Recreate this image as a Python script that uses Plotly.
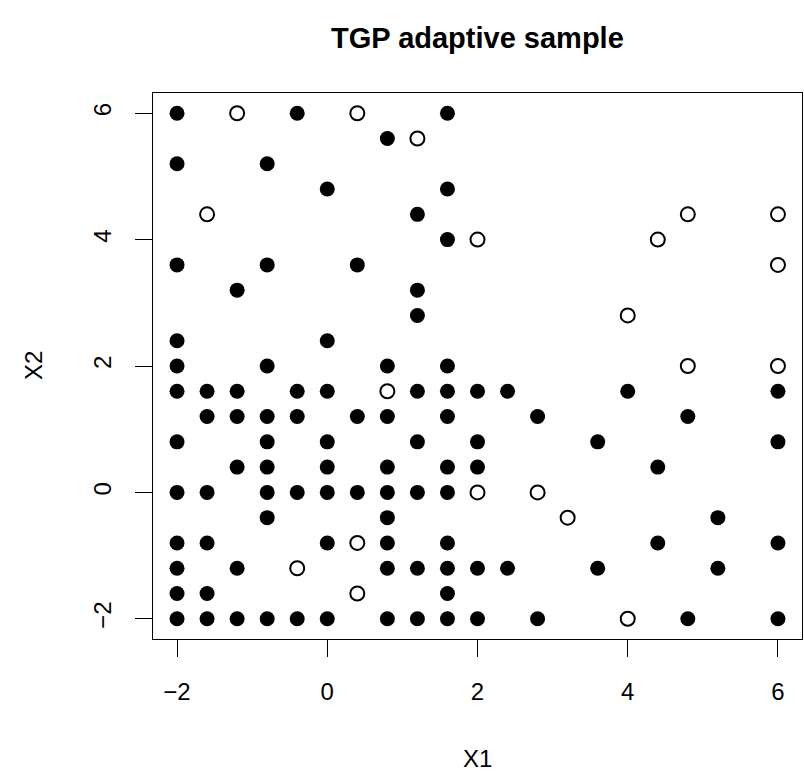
import plotly.graph_objects as go

# Filled points (X1, X2)
filled_x1 = [-2, -0.4, 1.6,
             0.8,
             -2, -0.8,
             0, 1.6,
             1.2,
             1.6,
             -2, -0.8, 0.4,
             -1.2, 1.2,
             1.2,
             -2, 0,
             -2, -0.8, 0.8, 1.6,
             -2, -1.6, -1.2, -0.4, 0, 1.2, 1.6, 2.0, 2.4, 4.0, 6.0,
             -1.6, -1.2, -0.8, -0.4, 0.4, 0.8, 1.6, 2.8, 4.8,
             -2, -0.8, 0, 1.2, 2.0, 3.6, 6.0,
             -1.2, -0.8, 0, 0.8, 1.6, 2.0, 4.4,
             -2, -1.6, -0.8, -0.4, 0, 0.4, 0.8, 1.2, 1.6,
             -0.8, 0.8, 5.2,
             -2, -1.6, 0, 0.8, 1.6, 4.4, 6.0,
             -2, -1.2, 0.8, 1.2, 1.6, 2.0, 2.4, 3.6, 5.2,
             -2, -1.6, 1.6,
             -2, -1.6, -1.2, -0.8, -0.4, 0, 0.8, 1.2, 1.6, 2.0, 2.8, 4.8, 6.0]
filled_x2 = [6, 6, 6,
             5.6,
             5.2, 5.2,
             4.8, 4.8,
             4.4,
             4.0,
             3.6, 3.6, 3.6,
             3.2, 3.2,
             2.8,
             2.4, 2.4,
             2.0, 2.0, 2.0, 2.0,
             1.6, 1.6, 1.6, 1.6, 1.6, 1.6, 1.6, 1.6, 1.6, 1.6, 1.6,
             1.2, 1.2, 1.2, 1.2, 1.2, 1.2, 1.2, 1.2, 1.2,
             0.8, 0.8, 0.8, 0.8, 0.8, 0.8, 0.8,
             0.4, 0.4, 0.4, 0.4, 0.4, 0.4, 0.4,
             0, 0, 0, 0, 0, 0, 0, 0, 0,
             -0.4, -0.4, -0.4,
             -0.8, -0.8, -0.8, -0.8, -0.8, -0.8, -0.8,
             -1.2, -1.2, -1.2, -1.2, -1.2, -1.2, -1.2, -1.2, -1.2,
             -1.6, -1.6, -1.6,
             -2, -2, -2, -2, -2, -2, -2, -2, -2, -2, -2, -2, -2]

# Open points (X1, X2)
open_x1 = [-1.2, 0.4, 1.2, -1.6, 4.8, 6.0, 2.0, 4.4, 6.0, 4.0, 4.8, 6.0,
           0.8, 2.0, 2.8, 3.2, 0.4, -0.4, 0.4, 4.0]
open_x2 = [6, 6, 5.6, 4.4, 4.4, 4.4, 4.0, 4.0, 3.6, 2.8, 2.0, 2.0,
           1.6, 0, 0, -0.4, -0.8, -1.2, -1.6, -2]

tick_vals = [-2, 0, 2, 4, 6]
tick_text = ["\u22122", "0", "2", "4", "6"]

FONT = "Liberation Sans, Arial, Helvetica, sans-serif"

fig = go.Figure()
fig.add_trace(go.Scatter(x=filled_x1, y=filled_x2, mode="markers",
                         marker=dict(symbol="circle", size=15, color="black",
                                     line=dict(width=0)),
                         showlegend=False))
fig.add_trace(go.Scatter(x=open_x1, y=open_x2, mode="markers",
                         marker=dict(symbol="circle-open", size=14, color="black",
                                     line=dict(width=2)),
                         showlegend=False))

axis_common = dict(range=[-2.32, 6.32], tickvals=tick_vals, ticktext=tick_text,
                   showgrid=False, zeroline=False, showline=True, mirror=True,
                   linecolor="black", linewidth=1, ticks="outside", ticklen=17,
                   tickwidth=1, tickcolor="black",
                   tickfont=dict(family=FONT, size=24, color="black"))

fig.update_layout(
    width=804, height=774,
    margin=dict(l=153, r=2, t=93, b=135),
    paper_bgcolor="white", plot_bgcolor="white",
    xaxis=dict(**axis_common, ticklabelstandoff=14),
    yaxis=dict(**axis_common, tickangle=-90, ticklabelstandoff=14),
    font=dict(family=FONT, color="black"),
    annotations=[
        dict(text="<b>TGP adaptive sample</b>", xref="paper", yref="paper",
             x=0.5, y=1, yshift=55, showarrow=False, xanchor="center", yanchor="middle",
             font=dict(family=FONT, size=29, color="black")),
        dict(text="X1", xref="paper", yref="paper", x=0.5, y=0, yshift=-119,
             showarrow=False, xanchor="center", yanchor="middle",
             font=dict(family=FONT, size=24, color="black")),
        dict(text="X2", xref="paper", yref="paper", x=0, y=0.5, xshift=-120,
             showarrow=False, xanchor="center", yanchor="middle", textangle=-90,
             font=dict(family=FONT, size=24, color="black")),
    ],
)

fig.write_html("out.html")
